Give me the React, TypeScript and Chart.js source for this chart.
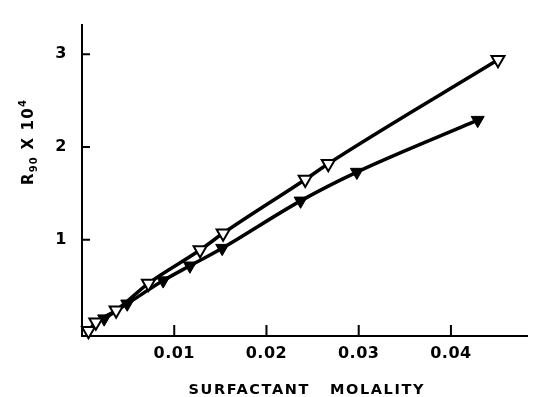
import React, { useEffect, useRef } from 'react';
import { Chart, registerables } from 'chart.js';

Chart.register(...registerables);

// Open (hollow) down-triangles
const openX = [0.0007, 0.0015, 0.0037, 0.0072, 0.0128, 0.0153, 0.0242, 0.0267, 0.0451];
const openY = [0.02, 0.11, 0.24, 0.53, 0.89, 1.07, 1.65, 1.82, 2.94];

// Filled down-triangles
const filledX = [0.0024, 0.0049, 0.0088, 0.0117, 0.0152, 0.0237, 0.0298, 0.0429];
const filledY = [0.15, 0.31, 0.56, 0.72, 0.91, 1.42, 1.73, 2.29];

const xTickValues = [0.01, 0.02, 0.03, 0.04];
const xTickLabels = ['0.01', '0.02', '0.03', '0.04'];
const yTickValues = [1, 2, 3];
const yTickLabels = ['1', '2', '3'];

const xTitle = 'SURFACTANT   MOLALITY';
const yTitleMain = 'R';
const yTitleSub = '90';
const yTitleMid = ' X 10';
const yTitleSup = '4';

const FONT = "'DejaVu Sans', 'Liberation Sans', sans-serif";

const decorPlugin = {
  id: 'decor',
  beforeDraw(chart: any) {
    chart.ctx.letterSpacing = '0.5px';
  },
  afterDraw(chart: any) {
    const ctx = chart.ctx;
    const { left, bottom } = chart.chartArea;
    const xs = chart.scales.x;
    const ys = chart.scales.y;
    ctx.save();
    ctx.strokeStyle = '#000';
    ctx.lineWidth = 2;
    ctx.beginPath();
    yTickValues.forEach((v) => {
      const py = ys.getPixelForValue(v);
      ctx.moveTo(left, py);
      ctx.lineTo(left + 8, py);
    });
    xTickValues.forEach((v) => {
      const px = xs.getPixelForValue(v);
      ctx.moveTo(px, bottom);
      ctx.lineTo(px, bottom - 11);
    });
    ctx.stroke();

    // x title
    ctx.fillStyle = '#000';
    ctx.letterSpacing = '1.6px';
    ctx.font = `bold 14.5px ${FONT}`;
    ctx.textAlign = 'center';
    ctx.textBaseline = 'middle';
    ctx.fillText(xTitle, (xs.left + xs.right) / 2 + 2, 390);

    // y title (rotated, with sub/superscript)
    ctx.letterSpacing = '1.2px';
    ctx.textAlign = 'left';
    ctx.textBaseline = 'alphabetic';
    const big = `bold 15px ${FONT}`;
    const small = `bold 10px ${FONT}`;
    ctx.font = big;
    const wMain = ctx.measureText(yTitleMain).width;
    const wMid = ctx.measureText(yTitleMid).width;
    ctx.font = small;
    const wSub = ctx.measureText(yTitleSub).width;
    const wSup = ctx.measureText(yTitleSup).width;
    const total = wMain + wSub + wMid + wSup;
    ctx.translate(27, 142);
    ctx.rotate(-Math.PI / 2);
    let cx = -total / 2;
    const base = 6;
    ctx.font = big;
    ctx.fillText(yTitleMain, cx, base);
    cx += wMain;
    ctx.font = small;
    ctx.fillText(yTitleSub, cx, base + 4);
    cx += wSub;
    ctx.font = big;
    ctx.fillText(yTitleMid, cx, base);
    cx += wMid;
    ctx.font = small;
    ctx.fillText(yTitleSup, cx, base - 7);
    ctx.restore();
    ctx.letterSpacing = '0px';
  },
};

export default function App() {
  const ref = useRef<HTMLCanvasElement>(null);
  useEffect(() => {
    document.body.style.margin = '0';
    const canvas = ref.current!;
    const chart = new Chart(canvas, {
      type: 'line',
      data: {
        datasets: [
          {
            label: 'open',
            data: openX.map((x, i) => ({ x, y: openY[i] })),
            borderColor: '#000',
            borderWidth: 3.5,
            pointStyle: 'triangle',
            rotation: 180,
            pointRadius: 7.5,
            pointBackgroundColor: '#fff',
            pointBorderColor: '#000',
            pointBorderWidth: 2,
            cubicInterpolationMode: 'monotone',
            fill: false,
            clip: false,
          } as any,
          {
            label: 'filled',
            data: filledX.map((x, i) => ({ x, y: filledY[i] })),
            borderColor: '#000',
            borderWidth: 3.5,
            pointStyle: 'triangle',
            rotation: 180,
            pointRadius: 7.5,
            pointBackgroundColor: '#000',
            pointBorderColor: '#000',
            pointBorderWidth: 1,
            cubicInterpolationMode: 'monotone',
            fill: false,
            clip: false,
          } as any,
        ],
      },
      options: {
        responsive: false,
        animation: false,
        layout: { padding: { left: 0, top: 22, right: 7, bottom: 0 } },
        plugins: { legend: { display: false }, tooltip: { enabled: false } },
        scales: {
          x: {
            type: 'linear',
            min: 0,
            max: 0.0483,
            afterBuildTicks: (s: any) => {
              s.ticks = xTickValues.map((v) => ({ value: v }));
            },
            afterFit: (s: any) => {
              s.height = 61;
            },
            ticks: {
              autoSkip: false,
              maxRotation: 0,
              padding: 8,
              color: '#000',
              font: { family: FONT, size: 16, weight: 'bold' },
              callback: (v: any) => {
                const i = xTickValues.findIndex((t) => Math.abs(t - v) < 1e-9);
                return i >= 0 ? xTickLabels[i] : '';
              },
            },
            grid: { display: false, drawTicks: false },
            border: { display: true, color: '#000', width: 2 },
          },
          y: {
            type: 'linear',
            min: -0.037,
            max: 3.32,
            afterBuildTicks: (s: any) => {
              s.ticks = yTickValues.map((v) => ({ value: v }));
            },
            afterFit: (s: any) => {
              s.width = 82;
            },
            ticks: {
              autoSkip: false,
              padding: 15,
              color: '#000',
              font: { family: FONT, size: 16, weight: 'bold' },
              callback: (v: any) => {
                const i = yTickValues.findIndex((t) => Math.abs(t - v) < 1e-9);
                return i >= 0 ? yTickLabels[i] : '';
              },
            },
            grid: { display: false, drawTicks: false },
            border: { display: true, color: '#000', width: 2 },
          },
        },
      } as any,
      plugins: [decorPlugin],
    });
    return () => chart.destroy();
  }, []);
  return (
    <div style={{ width: 537, height: 397 }}>
      <canvas ref={ref} width={537} height={397} style={{ display: 'block' }} />
    </div>
  );
}
